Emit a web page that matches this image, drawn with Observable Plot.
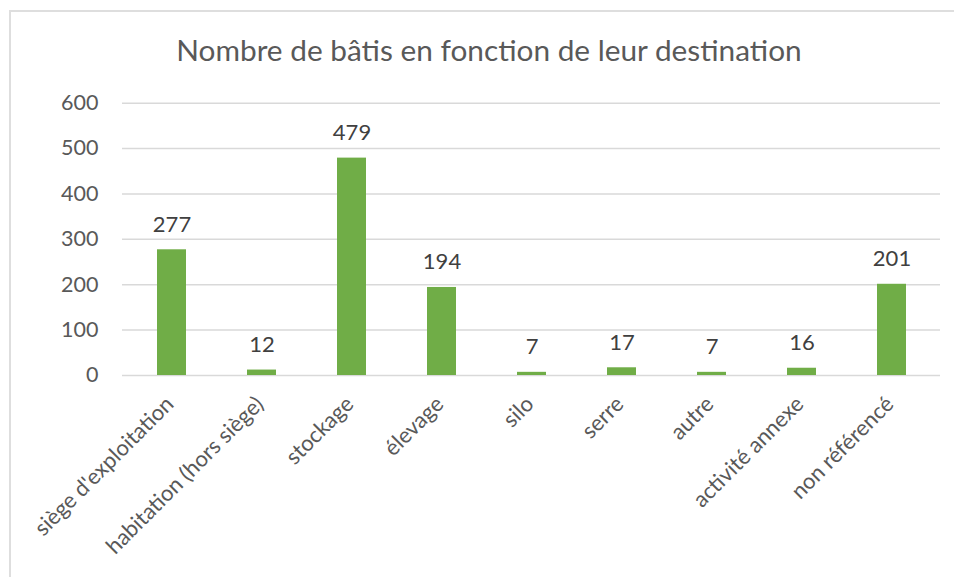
<!DOCTYPE html>
<html><head><meta charset="utf-8">
<script src="https://cdn.jsdelivr.net/npm/d3@7"></script>
<script src="https://cdn.jsdelivr.net/npm/@observablehq/plot@0.6"></script>
<style>
body{margin:0;background:#fff;}
#wrap{position:relative;width:954px;height:577px;overflow:hidden;background:#fff;}
#frame{position:absolute;left:9px;top:10px;right:-10px;bottom:-10px;border-top:2px solid #dedede;border-left:2px solid #dedede;pointer-events:none;}
#title{height:80px;width:954px;box-sizing:border-box;padding-left:24px;padding-top:36px;text-align:center;font-family:Lato,sans-serif;font-size:29.8px;line-height:28px;color:#595959;}
#chart svg{display:block;}
</style></head>
<body><div id="wrap"><div id="frame"></div><div id="title">Nombre de bâtis en fonction de leur destination</div><div id="chart"></div></div>
<script>
const categories = ["siège d'exploitation", "habitation (hors siège)", "stockage", "élevage", "silo", "serre", "autre", "activité annexe", "non référencé"];
const values = [277, 12, 479, 194, 7, 17, 7, 16, 201];
const yTicks = [0, 100, 200, 300, 400, 500, 600];
const data = categories.map((c, i) => ({category: c, value: values[i]}));

const chart = Plot.plot({
  width: 954,
  height: 497,
  marginLeft: 122,
  marginRight: 14,
  marginTop: 22.7,
  marginBottom: 202,
  style: {fontFamily: "Lato, sans-serif", background: "transparent"},
  x: {type: "band", domain: categories, paddingInner: 0.68, paddingOuter: 0.34, axis: null},
  y: {domain: [0, 600], axis: null},
  marks: [
    Plot.ruleY(yTicks, {stroke: "#d9d9d9", strokeWidth: 1.5}),
    Plot.axisY(yTicks, {tickSize: 0, tickPadding: 24, fontSize: 21.5, color: "#595959", label: null}),
    Plot.barY(data, {x: "category", y: "value", fill: "#70ad47"}),
    Plot.text(data, {x: "category", y: "value", text: d => String(d.value), lineAnchor: "bottom", dy: -18, fontSize: 22, fill: "#404040"}),
    Plot.text(categories, {x: d => d, frameAnchor: "bottom", dy: 25, dx: -2, rotate: -45, textAnchor: "end", lineAnchor: "middle", fontSize: 22, fill: "#595959"})
  ]
});
document.getElementById("chart").appendChild(chart);
</script>
</body></html>
